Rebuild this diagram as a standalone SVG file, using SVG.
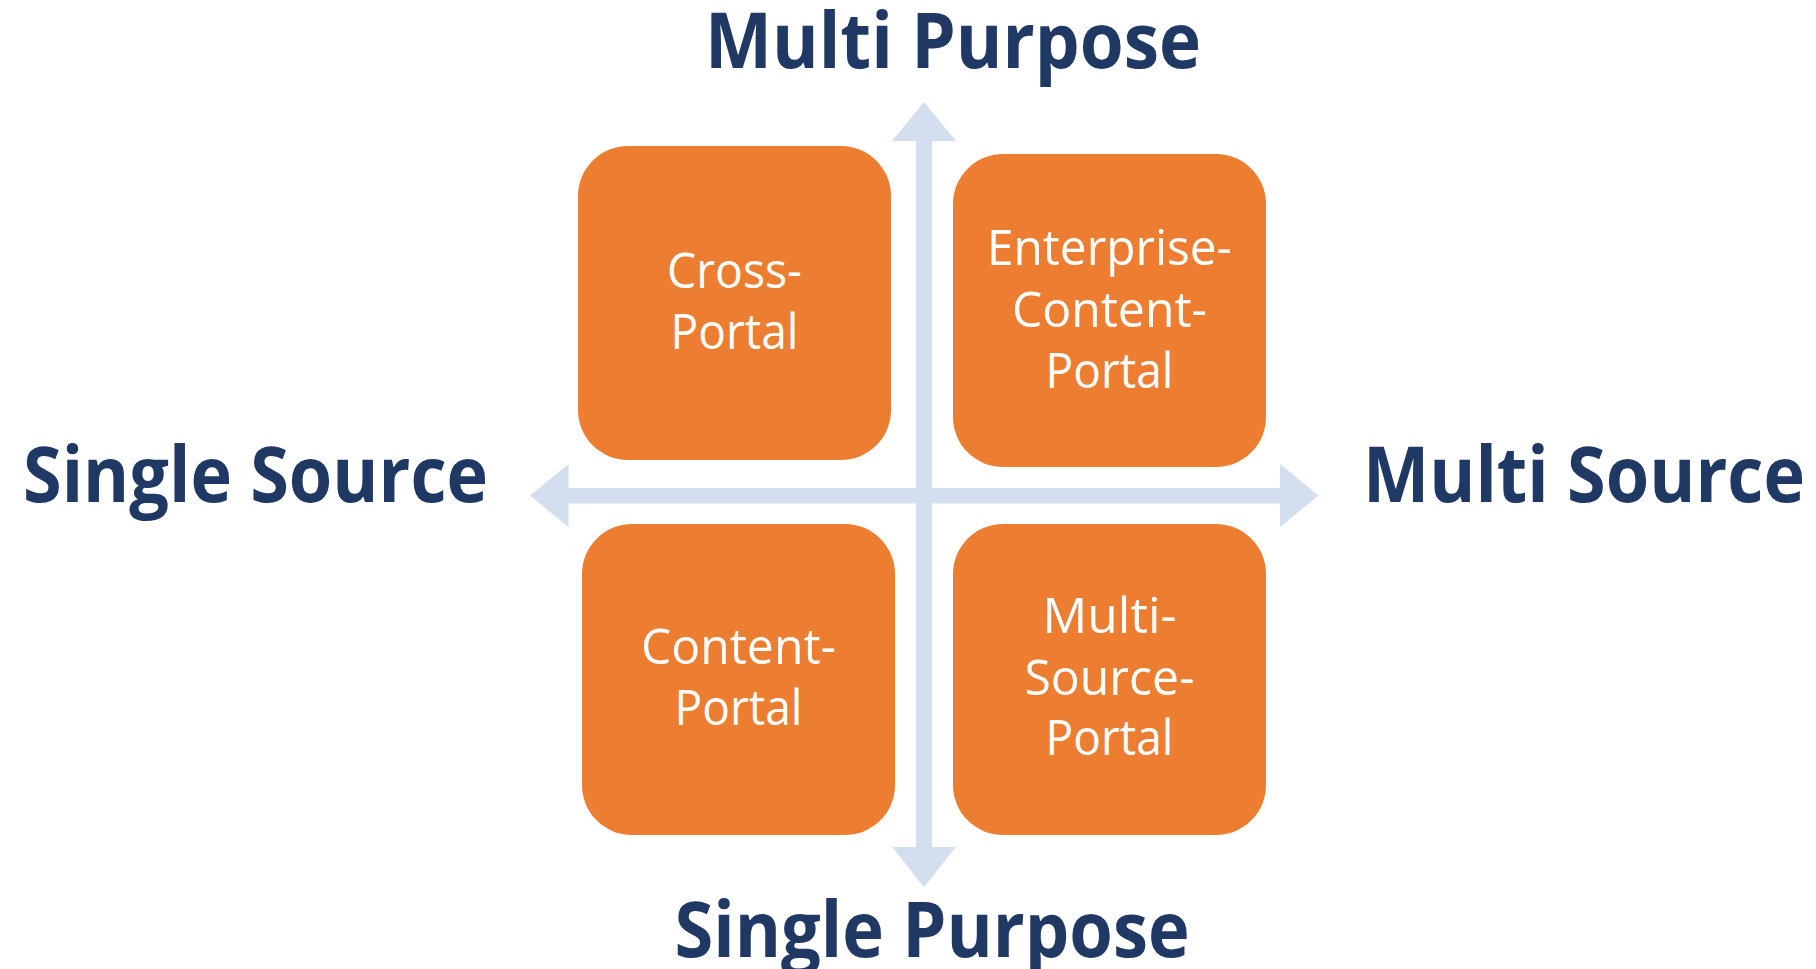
<svg xmlns="http://www.w3.org/2000/svg" width="1816" height="969" viewBox="0 0 1816 969">
<style>
.bg{fill:#ffffff}
.box{fill:#ED7D31}
.lbl{font-family:"Open Sans","Noto Sans","Liberation Sans",sans-serif;font-size:49px;fill:#ffffff;text-anchor:middle}
.axis{font-family:"Open Sans","Noto Sans","Liberation Sans",sans-serif;font-size:77px;font-weight:bold;fill:#203864}
.arrow{fill:#D3DEEF}
</style>
<rect class="bg" x="0" y="0" width="1816" height="969"/>
<g id="connectors">
<polygon class="arrow" points="924,102 956,141 932,141 932,847 956,847 924,887 892,847 916,847 916,141 892,141"/>
<polygon class="arrow" points="530,495.5 568.5,464 568.5,488 1280,488 1280,464 1318.5,495.5 1280,527 1280,503.5 568.5,503.5 568.5,527"/>
</g>
<g id="cross-portal">
<rect class="box" x="578" y="146" width="313" height="314" rx="50" ry="50"/>
<text class="lbl" x="734.5" y="288" textLength="135" lengthAdjust="spacingAndGlyphs">Cross-</text>
<text class="lbl" x="734.5" y="349" textLength="128" lengthAdjust="spacingAndGlyphs">Portal</text>
</g>
<g id="enterprise-content-portal">
<rect class="box" x="953" y="154" width="313" height="313" rx="50" ry="50"/>
<text class="lbl" x="1109.5" y="265" textLength="245" lengthAdjust="spacingAndGlyphs">Enterprise-</text>
<text class="lbl" x="1109.5" y="327" textLength="195" lengthAdjust="spacingAndGlyphs">Content-</text>
<text class="lbl" x="1109.5" y="388" textLength="128" lengthAdjust="spacingAndGlyphs">Portal</text>
</g>
<g id="content-portal">
<rect class="box" x="582" y="524" width="313" height="311" rx="50" ry="50"/>
<text class="lbl" x="738.5" y="664" textLength="195" lengthAdjust="spacingAndGlyphs">Content-</text>
<text class="lbl" x="738.5" y="725" textLength="128" lengthAdjust="spacingAndGlyphs">Portal</text>
</g>
<g id="multi-source-portal">
<rect class="box" x="953" y="524" width="313" height="311" rx="50" ry="50"/>
<text class="lbl" x="1109.5" y="633" textLength="134" lengthAdjust="spacingAndGlyphs">Multi-</text>
<text class="lbl" x="1109.5" y="695" textLength="170" lengthAdjust="spacingAndGlyphs">Source-</text>
<text class="lbl" x="1109.5" y="755" textLength="128" lengthAdjust="spacingAndGlyphs">Portal</text>
</g>
<g id="axis-labels">
<text class="axis" x="705" y="68" textLength="496" lengthAdjust="spacingAndGlyphs">Multi Purpose</text>
<text class="axis" x="23" y="501.5" textLength="465" lengthAdjust="spacingAndGlyphs">Single Source</text>
<text class="axis" x="1363" y="501.5" textLength="442" lengthAdjust="spacingAndGlyphs">Multi Source</text>
<text class="axis" x="674.5" y="956.5" textLength="515" lengthAdjust="spacingAndGlyphs">Single Purpose</text>
</g>
</svg>
